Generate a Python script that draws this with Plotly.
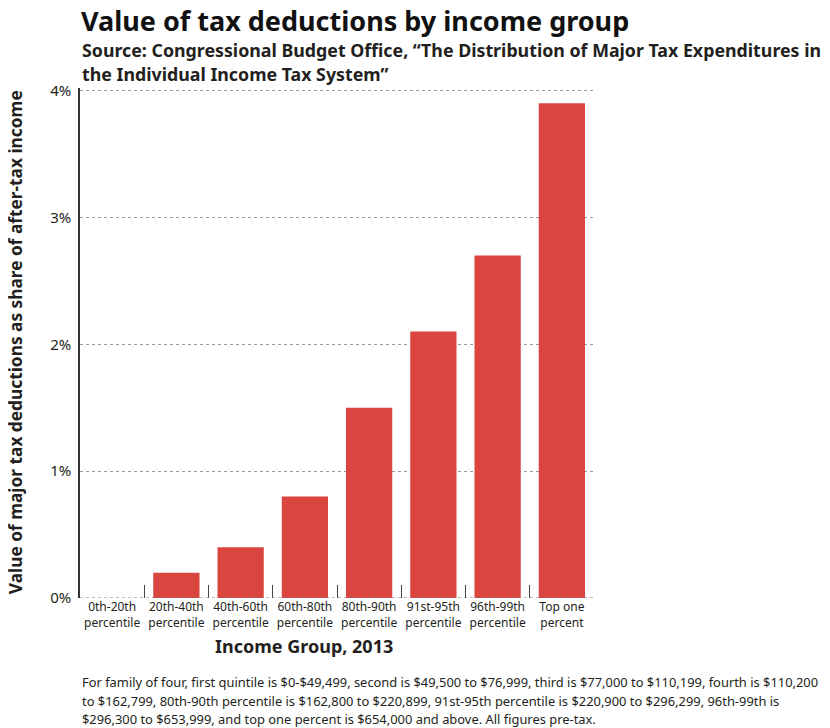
import plotly.graph_objects as go

categories = ["0th-20th<br>percentile", "20th-40th<br>percentile", "40th-60th<br>percentile",
              "60th-80th<br>percentile", "80th-90th<br>percentile", "91st-95th<br>percentile",
              "96th-99th<br>percentile", "Top one<br>percent"]
values = [0.0, 0.2, 0.4, 0.8, 1.5, 2.1, 2.7, 3.9]
y_ticks = [0, 1, 2, 3, 4]
y_tick_labels = ["0%", "1%", "2%", "3%", "4%"]
footnote_lines = [
    "For family of four, first quintile is $0-$49,499, second is $49,500 to $76,999, third is $77,000 to $110,199, fourth is $110,200",
    "to $162,799, 80th-90th percentile is $162,800 to $220,899, 91st-95th percentile is $220,900 to $296,299, 96th-99th is",
    "$296,300 to $653,999, and top one percent is $654,000 and above. All figures pre-tax.",
]

FONT = "Noto Sans"
TXT = "#231f20"
BAR = "#db4540"

fig = go.Figure(go.Bar(x=categories, y=values, marker=dict(color=BAR, line=dict(width=0)),
                       width=0.72, hoverinfo="skip"))

fig.update_layout(
    width=822, height=720,
    margin=dict(l=72, r=236, t=80, b=130, autoexpand=False),
    paper_bgcolor="white", plot_bgcolor="rgba(0,0,0,0)",
    showlegend=False,
    font=dict(family=FONT, color=TXT),
)
fig.update_xaxes(
    type="category", range=[-0.5, 7.5], automargin=False,
    showline=False, showgrid=False, zeroline=False,
    ticks="inside", tickson="boundaries", ticklen=13, tickcolor="#444", tickwidth=1,
    tickangle=0,
    tickfont=dict(size=12, family=FONT, color=TXT), ticklabelstandoff=0,
)
fig.update_yaxes(
    range=[0, 4.02], tickvals=y_ticks, ticktext=y_tick_labels, automargin=False,
    showline=True, linecolor="#333", linewidth=1.5, mirror=False,
    showgrid=True, gridcolor="#999", griddash="dot", gridwidth=1,
    zeroline=False, ticks="", ticklabelstandoff=4,
    tickfont=dict(size=15, family=FONT, color=TXT),
)
# dotted baseline
fig.add_hline(y=0, line=dict(color="#777", dash="dot", width=1))

ann = []
ann.append(dict(text="<b>Value of tax deductions by income group</b>", x=0, y=1.133,
                xref="paper", yref="paper", xanchor="left", yanchor="middle", showarrow=False,
                borderpad=0, font=dict(size=27, family=FONT, color="#111")))
ann.append(dict(text="<b>Source: Congressional Budget Office, “The Distribution of Major Tax Expenditures in</b>",
                x=0, y=1.075, xref="paper", yref="paper", xanchor="left", yanchor="middle",
                showarrow=False, font=dict(size=17.8, family=FONT, color=TXT)))
ann.append(dict(text="<b>the Individual Income Tax System”</b>",
                x=0, y=1.027, xref="paper", yref="paper", xanchor="left", yanchor="middle",
                showarrow=False, font=dict(size=17.8, family=FONT, color=TXT)))
ann.append(dict(text="<b>Income Group, 2013</b>", x=0.436, y=-0.094, xref="paper", yref="paper",
                xanchor="center", yanchor="middle", showarrow=False,
                font=dict(size=18, family=FONT, color=TXT)))
ann.append(dict(text="<b>Value of major tax deductions as share of after-tax income</b>",
                x=-0.124, y=0.502, xref="paper", yref="paper", textangle=-90,
                xanchor="center", yanchor="middle", showarrow=False, borderpad=0,
                font=dict(size=17.3, family=FONT, color=TXT)))
for line, yy in zip(footnote_lines, [-0.1647, -0.202, -0.237]):
    ann.append(dict(text=line, x=0, y=yy, xref="paper", yref="paper", xanchor="left",
                    yanchor="middle", align="left", showarrow=False,
                    font=dict(size=12.9, family=FONT, color=TXT)))
fig.update_layout(annotations=ann)

fig.write_html("out.html")
